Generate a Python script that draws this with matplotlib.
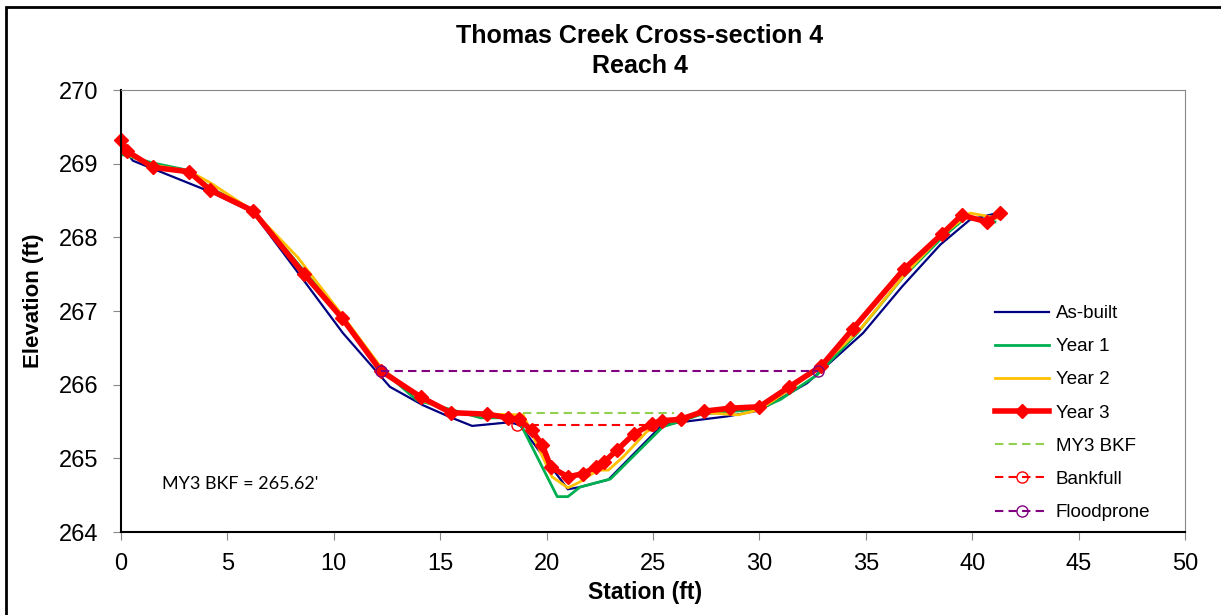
import matplotlib.pyplot as plt
from matplotlib.patches import Rectangle

plt.rcParams["font.family"] = ["Liberation Sans", "DejaVu Sans"]

# surveyed cross-sections (station ft, elevation ft)
asbuilt_x = [0, 0.56, 4.18, 6.2, 8.5, 10.43, 12.64, 14.2, 15.46, 16.5, 18.28, 18.75,
             21.0, 21.57, 22.9, 25.42, 26.27, 28.5, 30.0, 32.24, 34.87, 36.7, 38.5, 39.9, 41.2]
asbuilt_y = [269.25, 269.04, 268.62, 268.34, 267.45, 266.70, 265.97, 265.72, 265.56, 265.44,
             265.49, 265.45, 264.58, 264.61, 264.71, 265.45, 265.49, 265.57, 265.65, 266.02,
             266.70, 267.33, 267.90, 268.24, 268.33]

year1_x = [0.1, 1.5, 3.15, 4.2, 6.2, 8.55, 10.43, 12.26, 13.9, 16.9, 18.28, 18.75, 20.5,
           21.0, 21.57, 23.0, 25.47, 26.27, 27.3, 30.0, 31.0, 32.7, 34.6, 36.75, 38.6, 39.75, 41.07]
year1_y = [269.12, 269.01, 268.91, 268.67, 268.37, 267.56, 266.92, 266.20, 265.79, 265.55,
           265.55, 265.48, 264.48, 264.48, 264.61, 264.72, 265.43, 265.50, 265.60, 265.67,
           265.80, 266.13, 266.70, 267.46, 268.00, 268.28, 268.21]

year2_x = [0.1, 1.5, 3.2, 4.2, 6.2, 8.3, 10.43, 12.26, 14.1, 15.5, 17.2, 18.9, 20.25,
           21.0, 21.57, 22.4, 22.9, 23.6, 24.7, 25.4, 26.27, 27.4, 29.0, 30.0, 31.4, 32.8,
           34.7, 36.9, 38.6, 39.9, 41.2]
year2_y = [269.15, 268.98, 268.90, 268.74, 268.36, 267.73, 266.93, 266.22, 265.80, 265.62,
           265.60, 265.59, 264.75, 264.60, 264.68, 264.84, 264.84, 265.02, 265.36, 265.48,
           265.53, 265.62, 265.59, 265.66, 265.93, 266.23, 266.74, 267.52, 268.03, 268.33, 268.26]

year3_x = [0, 0.28, 1.5, 3.2, 4.2, 6.2, 8.6, 10.4, 12.2, 14.1, 15.5, 17.2, 18.2, 18.7,
           19.3, 19.8, 20.2, 21.0, 21.7, 22.3, 22.7, 23.3, 24.1, 24.95, 25.4, 26.3, 27.4,
           28.6, 30.0, 31.4, 32.9, 34.4, 36.8, 38.6, 39.5, 40.7, 41.3]
year3_y = [269.32, 269.17, 268.95, 268.89, 268.64, 268.36, 267.50, 266.90, 266.19, 265.83,
           265.62, 265.60, 265.55, 265.53, 265.38, 265.18, 264.88, 264.75, 264.79, 264.88,
           264.95, 265.11, 265.33, 265.47, 265.51, 265.53, 265.64, 265.68, 265.70, 265.97,
           266.25, 266.76, 267.57, 268.05, 268.30, 268.21, 268.33]

my3_bkf_x = [18.9, 26.0]
my3_bkf_y = [265.62, 265.62]
bankfull_x = [18.6, 24.95]
bankfull_y = [265.45, 265.45]
floodprone_x = [12.2, 32.75]
floodprone_y = [266.19, 266.19]

W, H = 1221, 615
fig = plt.figure(figsize=(W / 100, H / 100), dpi=100)
ax = fig.add_axes([121 / W, (H - 532) / H, (1185 - 121) / W, (532 - 90) / H])

ax.plot(asbuilt_x, asbuilt_y, color="#000080", lw=1.6, label="As-built")
ax.plot(year1_x, year1_y, color="#00b050", lw=2.0, label="Year 1")
ax.plot(year2_x, year2_y, color="#ffc000", lw=2.0, label="Year 2")
ax.plot(year3_x, year3_y, color="#ff0000", lw=4.0, marker="D", markersize=7,
        label="Year 3", clip_on=False)
ax.plot(my3_bkf_x, my3_bkf_y, color="#92d050", lw=1.5, ls=(0, (4, 2.5)), label="MY3 BKF")
ax.plot(bankfull_x, bankfull_y, color="#ff0000", lw=1.5, ls=(0, (4, 2.5)), marker="o",
        markersize=8, markerfacecolor="none", label="Bankfull")
ax.plot(floodprone_x, floodprone_y, color="#800080", lw=1.5, ls=(0, (4, 2.5)), marker="o",
        markersize=8, markerfacecolor="none", label="Floodprone")

ax.set_xlim(0, 50)
ax.set_ylim(264, 270)
ax.set_xticks(range(0, 51, 5))
ax.set_yticks(range(264, 271))
ax.tick_params(direction="out", length=6, color="#888888", labelsize=17)
ax.tick_params(axis="y", pad=10)
ax.tick_params(axis="x", pad=9)

for side in ["top", "right"]:
    ax.spines[side].set_color("#888888")
for side in ["left", "bottom"]:
    ax.spines[side].set_color("black")
    ax.spines[side].set_linewidth(1.5)

ax.set_xlabel("Station (ft)", fontsize=16.5, fontweight="bold")
ax.set_ylabel("Elevation (ft)", fontsize=16, fontweight="bold")
ax.xaxis.set_label_coords((645 - 121) / 1064, -0.111)
ax.yaxis.set_label_coords((44 - 121) / 1064, (532 - 301) / 442)

fig.text(640 / W, 1 - 43 / H, "Thomas Creek Cross-section 4", fontsize=18,
         fontweight="bold", ha="center", va="baseline")
fig.text(640 / W, 1 - 73 / H, "Reach 4", fontsize=18, fontweight="bold",
         ha="center", va="baseline")

ax.text(1.95, 264.65, "MY3 BKF = 265.62'", fontsize=13, family=["Lato", "DejaVu Sans"],
        va="center")

ax.legend(loc="upper left", bbox_to_anchor=(995 / W, 1 - 305 / H),
          bbox_transform=fig.transFigure, frameon=False, fontsize=13.5,
          handlelength=2.9, labelspacing=0.855, handletextpad=0.35,
          borderpad=0, borderaxespad=0)

# black frame around the whole chart
fig.add_artist(Rectangle((6 / W, -0.1), 1.2, 1.1 - 7 / H, transform=fig.transFigure,
                         fill=False, edgecolor="black", lw=2, clip_on=False))

fig.savefig("out.png", dpi=100)
